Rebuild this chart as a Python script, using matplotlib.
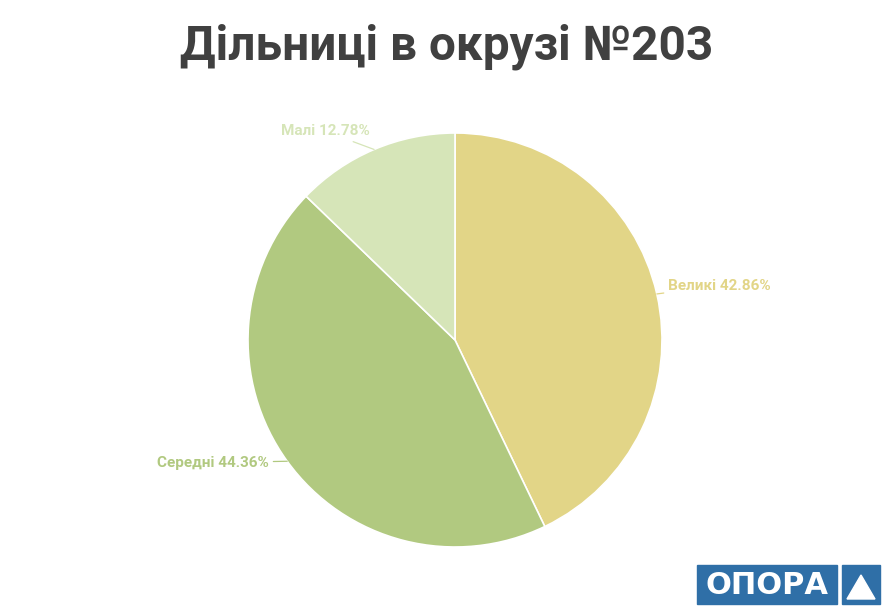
import numpy as np
import matplotlib.pyplot as plt
from matplotlib.patches import Rectangle, Polygon

# data
categories = ["Великі", "Середні", "Малі"]
shares = [42.86, 44.36, 12.78]
colors = ["#e2d587", "#b1c980", "#d6e5b8"]
title = "Дільниці в окрузі №203"

W, H = 882, 609
fig = plt.figure(figsize=(W / 100, H / 100), dpi=100)
ax = fig.add_axes([0, 0, 1, 1])

cx, cy, r = 455, H - 340, 207
wedges, _ = ax.pie(shares, colors=colors, startangle=90, counterclock=False,
                   center=(cx, cy), radius=r,
                   wedgeprops=dict(edgecolor="white", linewidth=1.2))
ax.set_xlim(0, W)
ax.set_ylim(0, H)
ax.set_aspect("auto")
ax.axis("off")

# label offsets (points) per slice, highcharts-like connectors
offsets = [(8, 6), (-13, -1), (-3, 13)]
for w, cat, val, col, off in zip(wedges, categories, shares, colors, offsets):
    ang = np.deg2rad((w.theta1 + w.theta2) / 2)
    x = cx + r * np.cos(ang)
    y = cy + r * np.sin(ang)
    ha = "left" if np.cos(ang) > 0 else "right"
    ax.annotate(f"{cat} {val:.2f}%", xy=(x, y), xytext=off,
                textcoords="offset points", ha=ha, va="center",
                fontsize=11, fontweight="bold", color=col, family="Roboto",
                arrowprops=dict(arrowstyle="-", color=col, lw=0.9,
                                shrinkA=1, shrinkB=0))

fig.text(447 / W, 1 - 47 / H, title, ha="center", va="center", fontsize=34.4,
         fontweight="bold", color="#404040", family="Roboto")

# logo
blue = "#2f6fa7"
ax.add_patch(Rectangle((697, H - 604), 140, 39, color=blue))
ax.add_patch(Rectangle((842, H - 604), 38, 39, color=blue))
ax.add_patch(Polygon([(861, H - 575), (847, H - 599), (875, H - 599)],
                     closed=True, color="white"))
ax.text(767, H - 586, "ОПОРА", ha="center", va="center", fontsize=22,
        fontweight="heavy", color="white", family="DejaVu Sans")

fig.savefig("out.png", dpi=100)
